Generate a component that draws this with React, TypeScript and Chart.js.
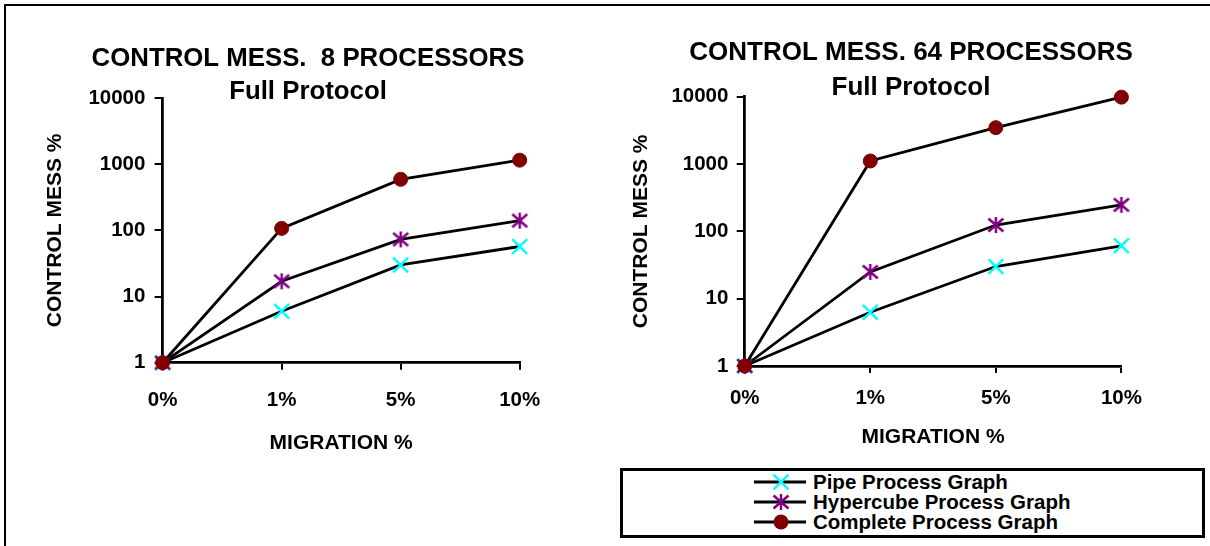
import React, { useEffect, useRef } from 'react';
import { Chart, registerables } from 'chart.js';

Chart.register(...registerables);

// ---------- data ----------
const CATEGORIES = ['0%', '1%', '5%', '10%'];
const Y_TICKS = [1, 10, 100, 1000, 10000];
const SERIES_NAMES = ['Pipe Process Graph', 'Hypercube Process Graph', 'Complete Process Graph'];

const PIPE_8 = [1, 6, 30, 57];
const HYPER_8 = [1, 17, 73, 140];
const COMPLETE_8 = [1, 107, 590, 1150];

const PIPE_64 = [1, 6.3, 30, 61];
const HYPER_64 = [1, 25, 124, 247];
const COMPLETE_64 = [1, 1110, 3470, 9840];

const TITLE_8 = ['CONTROL MESS.  8 PROCESSORS', 'Full Protocol'];
const TITLE_64 = ['CONTROL MESS. 64 PROCESSORS', 'Full Protocol'];
const X_TITLE = 'MIGRATION %';
const Y_TITLE = 'CONTROL MESS %';

// ---------- styles ----------
const FONT = '"Liberation Sans", Arial, Helvetica, sans-serif';
const CYAN = '#00FFFF';
const PURPLE = '#800080';
const DARKRED = '#800000';
const LINE_W = 2.8;
const AXIS_W = 2.8;

type Layout = {
  left: number; width: number; height: number;
  yAxisWidth: number; rightPad: number; xAxisHeight: number; xTitlePadBottom: number;
  titleSize: number; titleLine: number; titlePadTop: number; titlePadBottom: number;
  yTitlePad: number; xTickPad: number; yTickPad: number;
};

const LAYOUT_8: Layout = {
  left: 4, width: 608, height: 456,
  yAxisWidth: 158.6, rightPad: 92.3, xAxisHeight: 93.3, xTitlePadBottom: 0.2,
  titleSize: 25.8, titleLine: 33.4, titlePadTop: 42.1, titlePadBottom: -10.9,
  yTitlePad: 38.4, xTickPad: 18.2, yTickPad: 9.2,
};

const LAYOUT_64: Layout = {
  left: 612, width: 598, height: 450,
  yAxisWidth: 132.7, rightPad: 88.6, xAxisHeight: 84, xTitlePadBottom: 0.2,
  titleSize: 26, titleLine: 34.3, titlePadTop: 36.05, titlePadBottom: -7.95,
  yTitlePad: 16.4, xTickPad: 12.8, yTickPad: 8.3,
};

let asteriskCache: HTMLCanvasElement | null = null;
function asterisk(): HTMLCanvasElement {
  if (asteriskCache) return asteriskCache;
  const c = document.createElement('canvas');
  c.width = 18; c.height = 18;
  const g = c.getContext('2d')!;
  g.strokeStyle = PURPLE;
  g.lineWidth = 2.5;
  g.beginPath();
  g.moveTo(9, 1); g.lineTo(9, 17);
  g.moveTo(1.5, 2.5); g.lineTo(16.5, 15.5);
  g.moveTo(16.5, 2.5); g.lineTo(1.5, 15.5);
  g.stroke();
  asteriskCache = c;
  return c;
}

function markerProps(i: number): any {
  if (i === 0) {
    return {
      pointStyle: 'crossRot', pointRadius: 10.5, pointHoverRadius: 10.5,
      pointBorderWidth: 2.5, pointBorderColor: CYAN, pointBackgroundColor: CYAN, order: 2,
    };
  }
  if (i === 1) {
    return {
      pointStyle: asterisk(), pointRadius: 9, pointHoverRadius: 9,
      pointBorderWidth: 0, pointBorderColor: PURPLE, pointBackgroundColor: PURPLE, order: 1,
    };
  }
  return {
    pointStyle: 'circle', pointRadius: 7, pointHoverRadius: 7,
    pointBorderWidth: 1, pointBorderColor: DARKRED, pointBackgroundColor: DARKRED, order: 0,
  };
}

function buildConfig(L: Layout, title: string[], series: number[][]): any {
  const tickFont = { family: FONT, size: 20.5, weight: 'bold' as const, lineHeight: 1.2 };
  const axisTitleFont = { family: FONT, size: 21, weight: 'bold' as const, lineHeight: 1.2 };
  return {
    type: 'line',
    data: {
      labels: CATEGORIES,
      datasets: series.map((data, i) => ({
        label: SERIES_NAMES[i],
        data,
        borderColor: '#000',
        borderWidth: LINE_W,
        tension: 0,
        fill: false,
        clip: false,
        ...markerProps(i),
      })),
    },
    options: {
      animation: false,
      responsive: false,
      devicePixelRatio: 1,
      events: [],
      layout: { padding: 0 },
      plugins: {
        legend: { display: false },
        tooltip: { enabled: false },
        title: {
          display: true,
          text: title,
          color: '#000',
          font: { family: FONT, size: L.titleSize, weight: 'bold', lineHeight: L.titleLine / L.titleSize },
          padding: { top: L.titlePadTop, bottom: L.titlePadBottom },
        },
      },
      scales: {
        x: {
          type: 'category',
          offset: false,
          afterFit: (axis: any) => { axis.height = L.xAxisHeight; },
          ticks: { font: tickFont, color: '#000', padding: L.xTickPad, maxRotation: 0, autoSkip: false },
          grid: { display: true, drawOnChartArea: false, drawTicks: true, tickLength: 7, color: '#000', lineWidth: 2 },
          border: { display: true, color: '#000', width: AXIS_W },
          title: { display: true, text: X_TITLE, color: '#000', font: axisTitleFont, padding: { top: 0, bottom: L.xTitlePadBottom } },
        },
        y: {
          type: 'logarithmic',
          position: 'left',
          min: Y_TICKS[0],
          max: Y_TICKS[Y_TICKS.length - 1],
          afterBuildTicks: (axis: any) => { axis.ticks = Y_TICKS.map((v) => ({ value: v })); },
          afterFit: (axis: any) => { axis.width = L.yAxisWidth; },
          ticks: { font: tickFont, color: '#000', padding: L.yTickPad, autoSkip: false, callback: (v: any) => String(v) },
          grid: { display: true, drawOnChartArea: false, drawTicks: true, tickLength: 8, color: '#000', lineWidth: 2 },
          border: { display: true, color: '#000', width: AXIS_W },
          title: { display: true, text: Y_TITLE, color: '#000', font: axisTitleFont, padding: { top: L.yTitlePad, bottom: 0 } },
        },
        pad: {
          type: 'linear',
          position: 'right',
          display: true,
          ticks: { display: false },
          grid: { display: false },
          border: { display: false },
          afterFit: (axis: any) => { axis.width = L.rightPad; },
        },
      },
    },
  };
}

function ChartPanel({ layout, title, series }: { layout: Layout; title: string[]; series: number[][] }) {
  const ref = useRef<HTMLCanvasElement>(null);
  useEffect(() => {
    const chart = new Chart(ref.current as HTMLCanvasElement, buildConfig(layout, title, series));
    return () => chart.destroy();
  }, []);
  return (
    <canvas
      ref={ref}
      width={layout.width}
      height={layout.height}
      style={{ position: 'absolute', left: layout.left, top: 0, width: layout.width, height: layout.height }}
    />
  );
}

function LegendIcon({ index }: { index: number }) {
  const ref = useRef<HTMLCanvasElement>(null);
  useEffect(() => {
    const c = ref.current as HTMLCanvasElement;
    const g = c.getContext('2d')!;
    g.clearRect(0, 0, c.width, c.height);
    g.strokeStyle = '#000';
    g.lineWidth = LINE_W;
    g.beginPath();
    g.moveTo(2, 10); g.lineTo(54, 10);
    g.stroke();
    const cx = 29, cy = 10;
    if (index === 0) {
      const h = 7.4;
      g.strokeStyle = CYAN;
      g.lineWidth = 2.5;
      g.beginPath();
      g.moveTo(cx - h, cy - h); g.lineTo(cx + h, cy + h);
      g.moveTo(cx + h, cy - h); g.lineTo(cx - h, cy + h);
      g.stroke();
    } else if (index === 1) {
      const a = asterisk();
      g.drawImage(a, cx - a.width / 2, cy - a.height / 2);
    } else {
      g.fillStyle = DARKRED;
      g.beginPath();
      g.arc(cx, cy, 7.5, 0, Math.PI * 2);
      g.fill();
    }
  }, []);
  return <canvas ref={ref} width={56} height={20} style={{ position: 'absolute', left: 129, top: 0, width: 56, height: 20 }} />;
}

function Legend() {
  const rowTops = [0.75, 21.25, 41.25];
  return (
    <div
      style={{
        position: 'absolute', left: 620, top: 468, width: 585, height: 70,
        boxSizing: 'border-box', border: '3px solid #000', background: '#fff',
      }}
    >
      {SERIES_NAMES.map((name, i) => (
        <div key={name} style={{ position: 'absolute', left: 0, top: rowTops[i], width: 579, height: 20.5 }}>
          <LegendIcon index={i} />
          <div
            style={{
              position: 'absolute', left: 190, top: 0, height: 20.5, lineHeight: '20.5px',
              fontFamily: FONT, fontWeight: 'bold', fontSize: 20.5, color: '#000', whiteSpace: 'nowrap',
            }}
          >
            {name}
          </div>
        </div>
      ))}
    </div>
  );
}

export default function App() {
  return (
    <div style={{ position: 'absolute', left: 0, top: 0, width: 1210, height: 546, overflow: 'hidden', background: '#fff' }}>
      <div
        style={{
          position: 'absolute', left: 4, top: 4, right: 0, bottom: 0,
          borderLeft: '2px solid #000', borderTop: '2px solid #000',
        }}
      />
      <ChartPanel layout={LAYOUT_8} title={TITLE_8} series={[PIPE_8, HYPER_8, COMPLETE_8]} />
      <ChartPanel layout={LAYOUT_64} title={TITLE_64} series={[PIPE_64, HYPER_64, COMPLETE_64]} />
      <Legend />
    </div>
  );
}
